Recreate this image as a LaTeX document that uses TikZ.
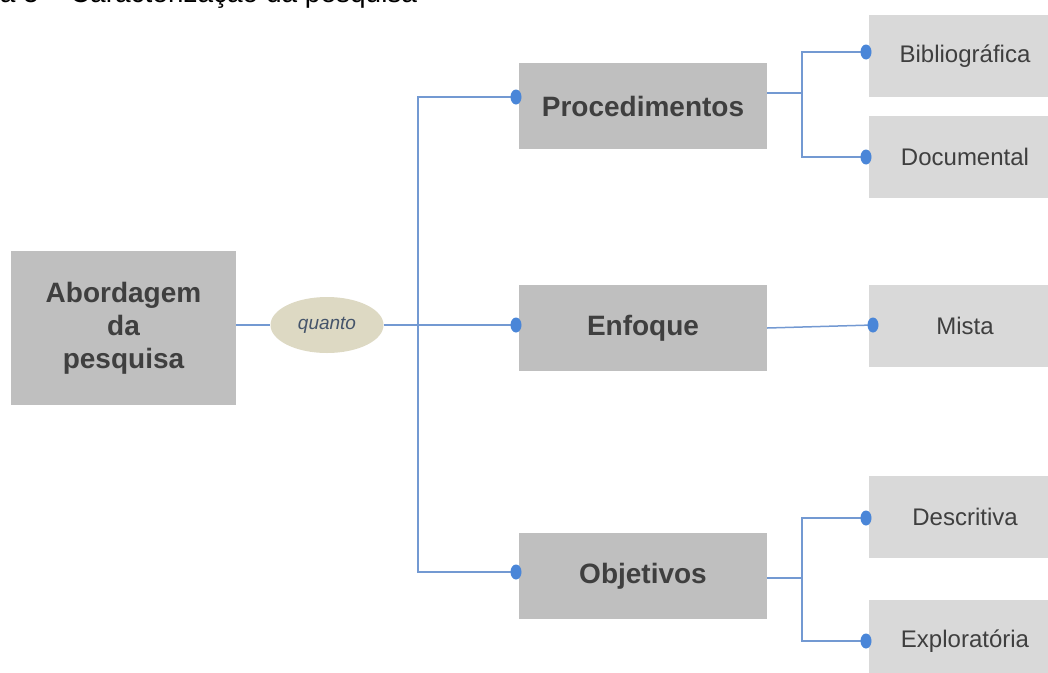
\documentclass[tikz,border=0pt]{standalone}
\usepackage{fontspec}
\setmainfont{Liberation Sans}
\usetikzlibrary{shapes.geometric}
\definecolor{boxmain}{HTML}{BFBFBF}
\definecolor{boxleaf}{HTML}{D9D9D9}
\definecolor{ovalfill}{HTML}{DDD9C3}
\definecolor{ovaltext}{HTML}{44546A}
\definecolor{linkblue}{HTML}{7399D2}
\definecolor{dotblue}{HTML}{4A86D8}
\definecolor{txtdark}{HTML}{3F3F3F}
\tikzset{
  mainbox/.style={rectangle, fill=boxmain, draw=none, minimum width=248pt, minimum height=86pt,
    inner sep=0pt, text=txtdark, font=\fontsize{28}{33}\selectfont\bfseries, align=center},
  leafbox/.style={rectangle, fill=boxleaf, draw=none, minimum width=192pt, minimum height=82pt,
    inner sep=0pt, text=txtdark, font=\fontsize{24}{28}\selectfont},
  oval/.style={ellipse, fill=ovalfill, draw=none, minimum width=113pt, minimum height=56pt,
    inner sep=0pt, text=ovaltext, font=\fontsize{19}{22}\selectfont\itshape},
  conn/.style={draw=linkblue, line width=1.5pt},
  dot/.style={ellipse, fill=dotblue, draw=none, minimum width=11pt, minimum height=15pt, inner sep=0pt},
}
\begin{document}
\begin{tikzpicture}[x=1pt, y=-1pt]
  \useasboundingbox (0,0) rectangle (1048,672);
  \clip (0,0) rectangle (1048,672);

  % caption, cut by the top edge
  \node[anchor=base west, inner sep=0pt, font=\fontsize{28}{32}\selectfont] (title)
    at (-64,2) {Figura 5 -- Caracterização da pesquisa};

  % boxes
  \node[mainbox, minimum width=225pt, minimum height=154pt] (abord) at (123.5,328)
    {Abordagem\\da\\pesquisa};
  \node[oval] (quanto) at (327,325) {quanto};
  \node[mainbox] (proc) at (643,106) {Procedimentos};
  \node[mainbox] (enf) at (643,328) {Enfoque};
  \node[mainbox] (obj) at (643,576) {Objetivos};

  \node[leafbox] (bib) at (965,56) {Bibliográfica};
  \node[leafbox] (doc) at (965,157) {Documental};
  \node[leafbox] (mis) at (965,326) {Mista};
  \node[leafbox] (des) at (965,517) {Descritiva};
  \node[leafbox] (exp) at (965,641) {Exploratória};

  % connector end points
  \coordinate (dp) at (516,97);
  \coordinate (de) at (516,325);
  \coordinate (do) at (516,572);
  \coordinate (db) at (866,52);
  \coordinate (dd) at (866,157);
  \coordinate (dm) at (873,325);
  \coordinate (ds) at (866,518);
  \coordinate (dx) at (866,641);
  \coordinate (j1) at (418,325);
  \coordinate (j2) at (802,93);
  \coordinate (j3) at (802,578);

  % connectors
  \draw[conn] (quanto.west -| abord.east) -- (quanto.west);
  \draw[conn] (quanto.east) -- (de);
  \draw[conn] (dp) -| (j1) |- (do);
  \draw[conn] (proc.east |- j2) -- (j2);
  \draw[conn] (db) -| (j2) |- (dd);
  \draw[conn] (obj.east |- j3) -- (j3);
  \draw[conn] (ds) -| (j3) |- (dx);
  \draw[conn] (enf.east) -- (dm);

  % end dots
  \foreach \p in {dp,de,do,db,dd,dm,ds,dx} \node[dot] at (\p) {};
\end{tikzpicture}
\end{document}
